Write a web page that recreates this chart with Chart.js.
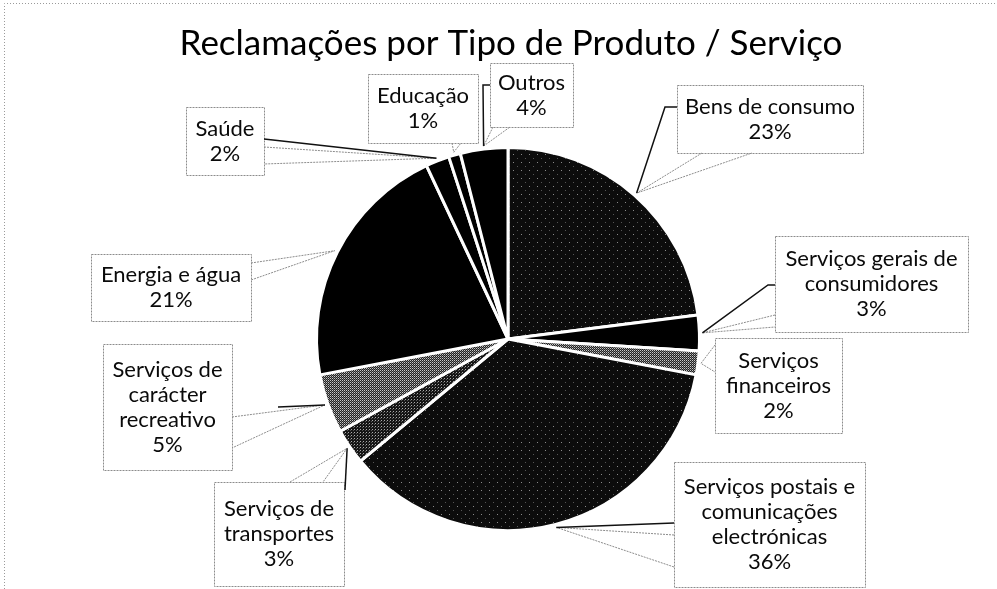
<!DOCTYPE html>
<html>
<head>
<meta charset="utf-8">
<script src="https://cdn.jsdelivr.net/npm/chart.js@4/dist/chart.umd.min.js"></script>
<style>
  body { margin: 0; background: #fff; }
  canvas { display: block; }
</style>
</head>
<body>
<canvas id="chart" width="997" height="589"></canvas>
<script>
// ------------------- DATA -------------------
const titleText = "Reclamações por Tipo de Produto / Serviço";
// multi-line category labels, as printed in the callouts
const categories = [
  ["Bens de consumo"],
  ["Serviços gerais de", "consumidores"],
  ["Serviços", "financeiros"],
  ["Serviços postais e", "comunicações", "electrónicas"],
  ["Serviços de", "transportes"],
  ["Serviços de", "carácter", "recreativo"],
  ["Energia e água"],
  ["Saúde"],
  ["Educação"],
  ["Outros"]
];
const shares = [23, 3, 2, 36, 3, 5, 21, 2, 1, 4]; // percent

// ------------------- LAYOUT -------------------
// callout boxes [x, y, w, h] in canvas pixels, same order as categories
const boxes = [
  [677, 85, 186, 68],
  [775, 236, 193, 96],
  [715, 338, 127, 95],
  [674, 462, 191, 125],
  [214, 482, 130, 104],
  [103, 344, 129, 126],
  [91, 254, 160, 67],
  [186, 107, 78, 68],
  [368, 74, 110, 69],
  [490, 63, 83, 64]
];
// base of each callout pointer (two points on the box edge)
const wedgeBase = [
  [[702, 153], [752, 153]],
  [[775, 315], [775, 327]],
  [[715, 345], [715, 372]],
  [[674, 535], [674, 567]],
  [[290, 482], [323, 482]],
  [[232, 417], [232, 448]],
  [[251, 263], [251, 280]],
  [[264, 147], [264, 164]],
  [[452, 143], [461, 143]],
  [[493, 127], [510, 127]]
];
// solid leader lines: start point (+ optional elbow), then to the slice
const leaders = [
  [[677, 107], [665, 107]],
  [[775, 285], [768, 285]],
  null,
  [[674, 523]],
  [[345, 490]],
  [[278, 407]],
  null,
  [[264, 139]],
  null,
  [[490, 85], [483, 85]]
];
const labelFont = "22px Lato";
const lineH = 25;

// ------------------- FILL TEXTURES -------------------
function makePattern(size, base, dots) {
  const c = document.createElement("canvas");
  c.width = size; c.height = size;
  const g = c.getContext("2d");
  g.fillStyle = base;
  g.fillRect(0, 0, size, size);
  dots.forEach(([x, y, col]) => { g.fillStyle = col; g.fillRect(x, y, 1, 1); });
  return g.createPattern(c, "repeat");
}
const speckled = makePattern(8, "#0c0c0c", [[1, 2, "#8a8a8a"], [5, 6, "#555"]]);
const grayStipple = makePattern(2, "#222", [[0, 0, "#c8c8c8"], [1, 1, "#777"]]);
const darkStipple = makePattern(3, "#151515", [[0, 0, "#aaa"], [2, 1, "#555"]]);
const fills = [speckled, "#000", grayStipple, speckled, darkStipple, grayStipple, "#000", "#000", "#000", "#000"];

// ------------------- CALLOUT PLUGIN -------------------
const callouts = {
  id: "callouts",
  afterDatasetsDraw(chart) {
    const ctx = chart.ctx;
    const meta = chart.getDatasetMeta(0);
    const labels = chart.data.labels;
    const values = chart.data.datasets[0].data;
    ctx.save();

    // title
    ctx.fillStyle = "#000";
    ctx.font = "35px Lato";
    ctx.textAlign = "center";
    ctx.textBaseline = "middle";
    ctx.fillText(titleText, 511, 44);

    // outer frame (dotted like the scan)
    ctx.strokeStyle = "#9a9a9a";
    ctx.lineWidth = 1;
    ctx.setLineDash([1, 2]);
    ctx.beginPath();
    ctx.moveTo(4.5, 589);
    ctx.lineTo(4.5, 3.5);
    ctx.lineTo(997, 3.5);
    ctx.stroke();

    meta.data.forEach((arc, i) => {
      const { x, y, startAngle, endAngle, outerRadius } = arc.getProps(["x", "y", "startAngle", "endAngle", "outerRadius"], true);
      const mid = (startAngle + endAngle) / 2;
      const tx = x + Math.cos(mid) * (outerRadius + 3);
      const ty = y + Math.sin(mid) * (outerRadius + 3);
      const [bx, by, bw, bh] = boxes[i];
      const [p1, p2] = wedgeBase[i];

      // box
      ctx.setLineDash([2, 1]);
      ctx.strokeStyle = "#8c8c8c";
      ctx.lineWidth = 1;
      ctx.fillStyle = "#fff";
      ctx.fillRect(bx, by, bw, bh);
      ctx.strokeRect(bx + 0.5, by + 0.5, bw, bh);

      // pointer wedge
      ctx.beginPath();
      ctx.moveTo(p1[0], p1[1]);
      ctx.lineTo(tx, ty);
      ctx.lineTo(p2[0], p2[1]);
      ctx.stroke();

      // solid leader
      if (leaders[i]) {
        ctx.setLineDash([]);
        ctx.strokeStyle = "#111";
        ctx.lineWidth = 1.5;
        ctx.beginPath();
        leaders[i].forEach(([lx, ly], k) => k ? ctx.lineTo(lx, ly) : ctx.moveTo(lx, ly));
        ctx.lineTo(tx, ty);
        ctx.stroke();
      }

      // text
      ctx.fillStyle = "#0a0a0a";
      ctx.font = labelFont;
      ctx.textAlign = "center";
      ctx.textBaseline = "middle";
      const lines = labels[i].concat([values[i] + "%"]);
      const top = by + bh / 2 - (lines.length - 1) * lineH / 2;
      lines.forEach((ln, k) => ctx.fillText(ln, bx + bw / 2, top + k * lineH));
    });
    ctx.restore();
  }
};

// ------------------- CHART -------------------
new Chart(document.getElementById("chart").getContext("2d"), {
  type: "pie",
  data: {
    labels: categories,
    datasets: [{
      data: shares,
      backgroundColor: fills,
      borderColor: "#fff",
      borderWidth: 3
    }]
  },
  options: {
    responsive: false,
    animation: false,
    devicePixelRatio: 1,
    layout: { padding: { left: 315, right: 296, top: 145, bottom: 56 } },
    plugins: {
      legend: { display: false },
      tooltip: { enabled: false },
      title: { display: false }
    }
  },
  plugins: [callouts]
});
</script>
</body>
</html>
